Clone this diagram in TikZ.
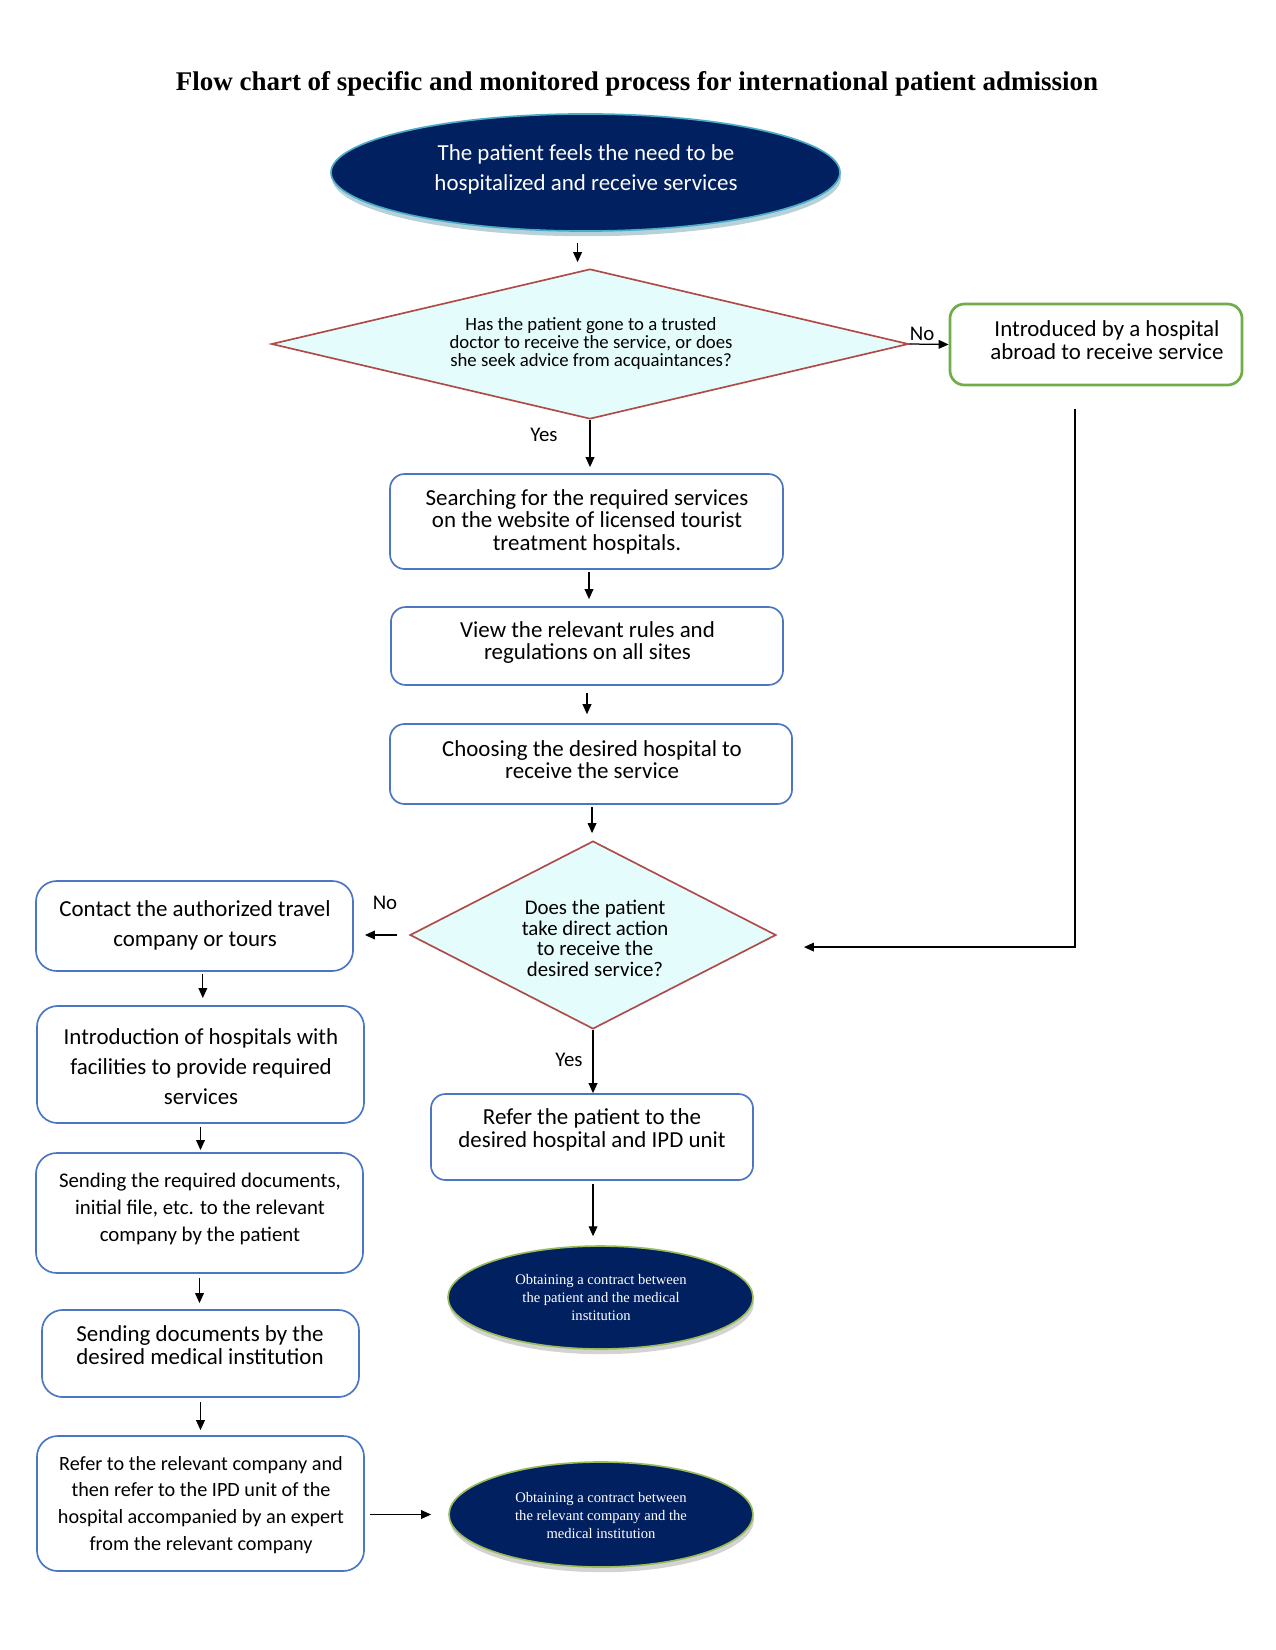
\documentclass[tikz,border=0pt]{standalone}
\usepackage{fontspec}
\setmainfont{Carlito}
\newfontfamily\serifff{Liberation Serif}
\usetikzlibrary{shapes.geometric,arrows.meta,shadows}
\definecolor{navy}{HTML}{002060}
\definecolor{boxblue}{HTML}{4A76C4}
\definecolor{diared}{HTML}{B04A47}
\definecolor{diafill}{HTML}{E4FDFC}
\definecolor{gboxc}{HTML}{70AD47}
\definecolor{ellblue}{HTML}{4BACC6}
\definecolor{ellgreen}{HTML}{9BBB59}
\tikzset{
  box/.style={draw=boxblue, line width=0.8pt, rounded corners=7pt, fill=white, inner sep=0pt},
  lbox/.style={draw=boxblue, line width=0.8pt, rounded corners=10pt, fill=white, inner sep=0pt},
  dia/.style={diamond, draw=diared, fill=diafill, line width=0.8pt, inner sep=0pt},
  navyell/.style={ellipse, fill=navy, inner sep=0pt, line width=0.8pt},
  txt/.style={align=center, inner sep=0pt, yshift=-0.9pt},
  lab/.style={inner sep=0pt, font=\fontsize{10}{12}\selectfont},
  arr/.style={-{Triangle[length=4.8pt,width=4.2pt]}, line width=0.6pt}
}
\begin{document}
\begin{tikzpicture}[x=0.48pt,y=-0.48pt]
\useasboundingbox (0,0) rectangle (1275,1650);
% title
\node[txt, font=\serifff\bfseries\fontsize{12.95}{15}\selectfont] (title) at (637,82) {Flow chart of specific and monitored process for international patient admission};
% top ellipse
\node[navyell, draw=ellblue, minimum width=244.3pt, minimum height=56.2pt,
  drop shadow={shadow xshift=0.5pt, shadow yshift=-2.5pt, fill=ellblue!60!gray, opacity=0.45}] (e1) at (585.5,172.5) {};
\node[txt, text=white, font=\fontsize{11}{14.2}\selectfont] (te1) at (586,167.5) {The patient feels the need to be\\hospitalized and receive services};
% decision 1
\node[dia, minimum width=305.8pt, minimum height=72pt] (d1) at (590,344) {};
\node[txt, font=\fontsize{9}{8.6}\selectfont] (td1) at (591,342) {Has the patient gone to a trusted\\doctor to receive the service, or does\\she seek advice from acquaintances?};
% green box
\node[draw=gboxc, line width=1.3pt, rounded corners=7pt, fill=white, minimum width=140.2pt, minimum height=38.9pt, inner sep=0pt] (g) at (1096,344.5) {};
\node[txt, font=\fontsize{11}{11}\selectfont] (tg) at (1107,338.5) {Introduced by a hospital\\abroad to receive service};
% central boxes
\node[box, minimum width=188.6pt, minimum height=45.6pt] (b1) at (586.5,521.5) {};
\node[txt, font=\fontsize{11}{10.6}\selectfont] (tb1) at (587,520) {Searching for the required services\\on the website of licensed tourist\\treatment hospitals.};
\node[box, minimum width=188.2pt, minimum height=37.4pt] (b2) at (587,646) {};
\node[txt, font=\fontsize{11}{10.6}\selectfont] (tb2) at (587.5,641) {View the relevant rules and\\regulations on all sites};
\node[box, minimum width=193pt, minimum height=38.4pt] (b3) at (591,764) {};
\node[txt, font=\fontsize{11}{10.6}\selectfont] (tb3) at (592,757.5) {Choosing the desired hospital to\\receive the service};
% decision 2
\node[dia, minimum width=175.7pt, minimum height=90.2pt] (d2) at (593,935) {};
\node[txt, font=\fontsize{10}{9.8}\selectfont] (td2) at (595,936.5) {Does the patient\\take direct action\\to receive the\\desired service?};
\node[box, minimum width=154.6pt, minimum height=41.3pt] (b4) at (592,1137) {};
\node[txt, font=\fontsize{11}{10.6}\selectfont] (tb4) at (592,1128) {Refer the patient to the\\desired hospital and IPD unit};
% contract ellipses
\node[navyell, draw=ellgreen, minimum width=146.4pt, minimum height=49.4pt,
  drop shadow={shadow xshift=0.5pt, shadow yshift=-2.5pt, fill=gray, opacity=0.35}] (e2) at (600.5,1297.5) {};
\node[txt, text=white, font=\serifff\fontsize{7}{8.6}\selectfont] (te2) at (601,1296) {Obtaining a contract between\\the patient and the medical\\institution};
\node[navyell, draw=ellgreen, minimum width=145.9pt, minimum height=50.4pt,
  drop shadow={shadow xshift=0.5pt, shadow yshift=-2.5pt, fill=gray, opacity=0.35}] (e3) at (601,1514.5) {};
\node[txt, text=white, font=\serifff\fontsize{7}{8.6}\selectfont] (te3) at (601,1514) {Obtaining a contract between\\the relevant company and the\\medical institution};
% left column
\node[lbox, minimum width=152.2pt, minimum height=43.2pt] (L1) at (194.5,926) {};
\node[txt, font=\fontsize{11}{14}\selectfont] (tL1) at (195,923.5) {Contact the authorized travel\\company or tours};
\node[lbox, minimum width=157pt, minimum height=56.2pt] (L2) at (200.5,1064.5) {};
\node[txt, font=\fontsize{11}{14.4}\selectfont] (tL2) at (201,1065) {Introduction of hospitals with\\facilities to provide required\\services};
\node[lbox, minimum width=157pt, minimum height=57.6pt] (L3) at (199.5,1213) {};
\node[txt, font=\fontsize{10}{12.9}\selectfont] (tL3) at (200,1207) {Sending the required documents,\\initial file, etc. to the relevant\\company by the patient};
\node[lbox, minimum width=152.2pt, minimum height=41.8pt] (L4) at (200.5,1353.5) {};
\node[txt, font=\fontsize{11}{11}\selectfont] (tL4) at (200,1343.5) {Sending documents by the\\desired medical institution};
\node[lbox, minimum width=157pt, minimum height=64.8pt] (L5) at (200.5,1503.5) {};
\node[txt, font=\fontsize{9.7}{12.8}\selectfont] (tL5) at (201,1503) {Refer to the relevant company and\\then refer to the IPD unit of the\\hospital accompanied by an expert\\from the relevant company};
% labels
\node[lab] (no1) at (922,334) {No};
\node[lab] (yes1) at (544,435) {Yes};
\node[lab] (no2) at (385,903) {No};
\node[lab] (yes2) at (569,1060) {Yes};
% connectors
\draw[arr, shorten <=5.3pt, shorten >=2.9pt] ([xshift=-3.8pt]e1.south) -- ([xshift=-3.8pt]e1.south |- d1.north);
\draw[arr, shorten >=2.9pt] (d1.south) -- (d1.south |- b1.north);
\draw[arr] (d1.east) -- (g.west);
\draw[arr] ([xshift=-10.1pt,yshift=-11pt]g.south) |- ([xshift=13pt,yshift=-5.8pt]d2.east);
\draw[arr, shorten <=1pt, shorten >=3.4pt] ([xshift=1.2pt]b1.south) -- ([xshift=1.2pt]b1.south |- b2.north);
\draw[arr, shorten <=3.4pt, shorten >=4.3pt] (b2.south) -- (b2.south |- b3.north);
\draw[arr, shorten <=1pt, shorten >=3.4pt] ([xshift=0.5pt]b3.south) -- ([xshift=0.5pt]b3.south |- d2.north);
\draw[arr] (d2.south) -- (d2.south |- b4.north);
\draw[arr, shorten <=1.4pt, shorten >=4.3pt] ([xshift=0.5pt]b4.south) -- ([xshift=0.5pt]b4.south |- e2.north);
\draw[arr, shorten <=5.8pt, shorten >=5.3pt] (d2.west) -- (d2.west -| L1.east);
\draw[arr, shorten <=1pt, shorten >=3.4pt] ([xshift=4pt]L1.south) -- ([xshift=4pt]L1.south |- L2.north);
\draw[arr, shorten <=1.4pt, shorten >=1pt] (L2.south) -- (L2.south |- L3.north);
\draw[arr, shorten <=1.9pt, shorten >=2.9pt] (L3.south) -- (L3.south |- L4.north);
\draw[arr, shorten <=1.9pt, shorten >=2.4pt] (L4.south) -- (L4.south |- L5.north);
\draw[arr, shorten <=2.4pt, shorten >=8.2pt] (L5.east |- e3.west) -- (e3.west);
\end{tikzpicture}
\end{document}
